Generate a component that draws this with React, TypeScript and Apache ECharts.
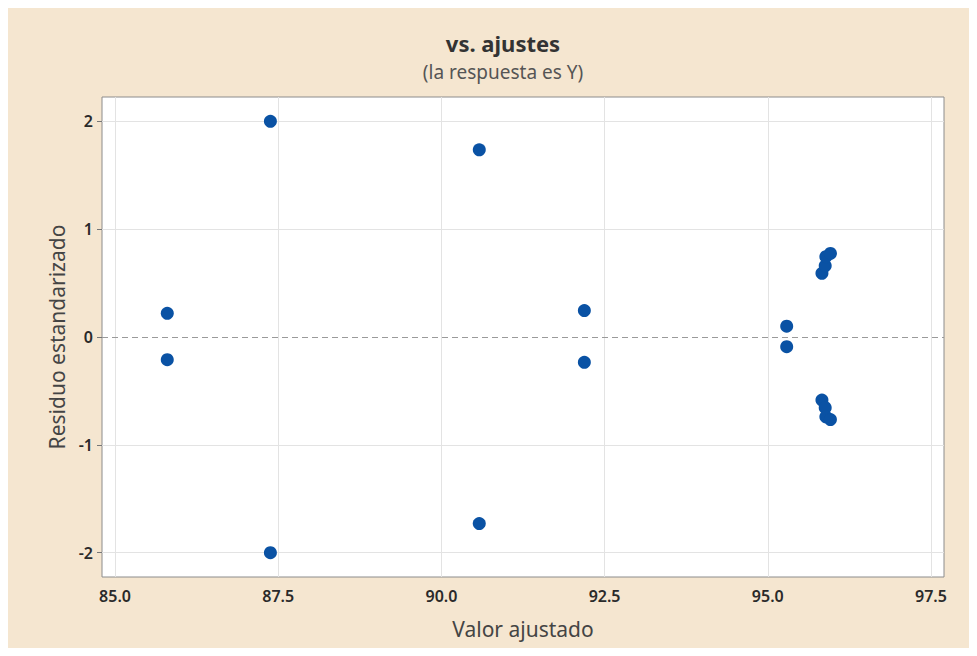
import React, { useEffect, useRef } from "react";
import * as echarts from "echarts";

const fittedValues = [85.8, 85.8, 87.38, 87.38, 90.58, 90.58, 92.19, 92.19, 95.29, 95.29, 95.83, 95.88, 95.89, 95.96, 95.83, 95.88, 95.89, 95.96];
const stdResiduals = [0.22, -0.21, 2.0, -2.0, 1.735, -1.73, 0.245, -0.235, 0.1, -0.09, 0.59, 0.66, 0.745, 0.775, -0.585, -0.655, -0.74, -0.765];
const xTicks = [85.0, 87.5, 90.0, 92.5, 95.0, 97.5];
const yTicks = [-2, -1, 0, 1, 2];

const FONT = "Noto Sans";

export default function App() {
  const ref = useRef<HTMLDivElement>(null);
  useEffect(() => {
    if (!ref.current) return;
    const chart = echarts.init(ref.current, null, { renderer: "svg" });
    const points = fittedValues.map((x, i) => [x, stdResiduals[i]]);
    const gridStyle = { color: "#e3e3e3", width: 1, type: "solid" as const };
    const gridLines: any[] = [
      ...yTicks.filter((v) => v !== 0).map((v) => ({ yAxis: v, lineStyle: gridStyle })),
      ...xTicks.map((v) => ({ xAxis: v, lineStyle: gridStyle })),
      { yAxis: 0, lineStyle: { color: "#9a9a9a", width: 1, type: [6, 4] } },
    ];
    chart.setOption({
      animation: false,
      backgroundColor: "#f5e6d0",
      title: {
        text: "vs. ajustes",
        subtext: "(la respuesta es Y)",
        left: 498,
        top: 27,
        textAlign: "center",
        itemGap: 8,
        textStyle: { fontFamily: FONT, fontSize: 22, fontWeight: "bold", color: "#333" },
        subtextStyle: { fontFamily: FONT, fontSize: 19, color: "#555" },
      },
      grid: {
        left: 102,
        right: 33,
        top: 97,
        bottom: 79,
        show: true,
        backgroundColor: "#ffffff",
        borderColor: "#8c8c8c",
        borderWidth: 1,
      },
      xAxis: {
        type: "value",
        min: 84.8,
        max: 97.7,
        name: "Valor ajustado",
        nameLocation: "middle",
        nameGap: 41,
        nameTextStyle: { fontFamily: FONT, fontSize: 21, color: "#444" },
        axisLine: { show: false },
        axisTick: { show: true, length: 6, customValues: xTicks, lineStyle: { color: "#777" } },
        axisLabel: {
          customValues: xTicks,
          fontFamily: FONT,
          fontSize: 16,
          fontWeight: 600,
          color: "#2a2a2a",
          margin: 11,
          formatter: (v: number) => v.toFixed(1),
        },
        splitLine: { show: false },
      },
      yAxis: {
        type: "value",
        min: -2.225,
        max: 2.225,
        name: "Residuo estandarizado",
        nameLocation: "middle",
        nameGap: 34,
        nameTextStyle: { fontFamily: FONT, fontSize: 21, color: "#444" },
        axisLine: { show: false },
        axisTick: { show: true, length: 5, customValues: yTicks, lineStyle: { color: "#777" } },
        axisLabel: {
          customValues: yTicks,
          fontFamily: FONT,
          fontSize: 16,
          fontWeight: 600,
          color: "#2a2a2a",
          margin: 9,
          formatter: (v: number) => String(Math.round(v)),
        },
        splitLine: { show: false },
      },
      series: [
        {
          type: "scatter",
          data: [],
          z: 1,
          silent: true,
          markLine: {
            z: 1,
            symbol: "none",
            silent: true,
            label: { show: false },
            data: gridLines,
          },
        },
        {
          type: "scatter",
          z: 3,
          data: points,
          symbol: "circle",
          symbolSize: 13,
          itemStyle: { color: "#0a52a4", opacity: 1 },
        },
      ],
    });
    return () => chart.dispose();
  }, []);
  return <div ref={ref} style={{ width: 977, height: 656, margin: -8 }} />;
}
